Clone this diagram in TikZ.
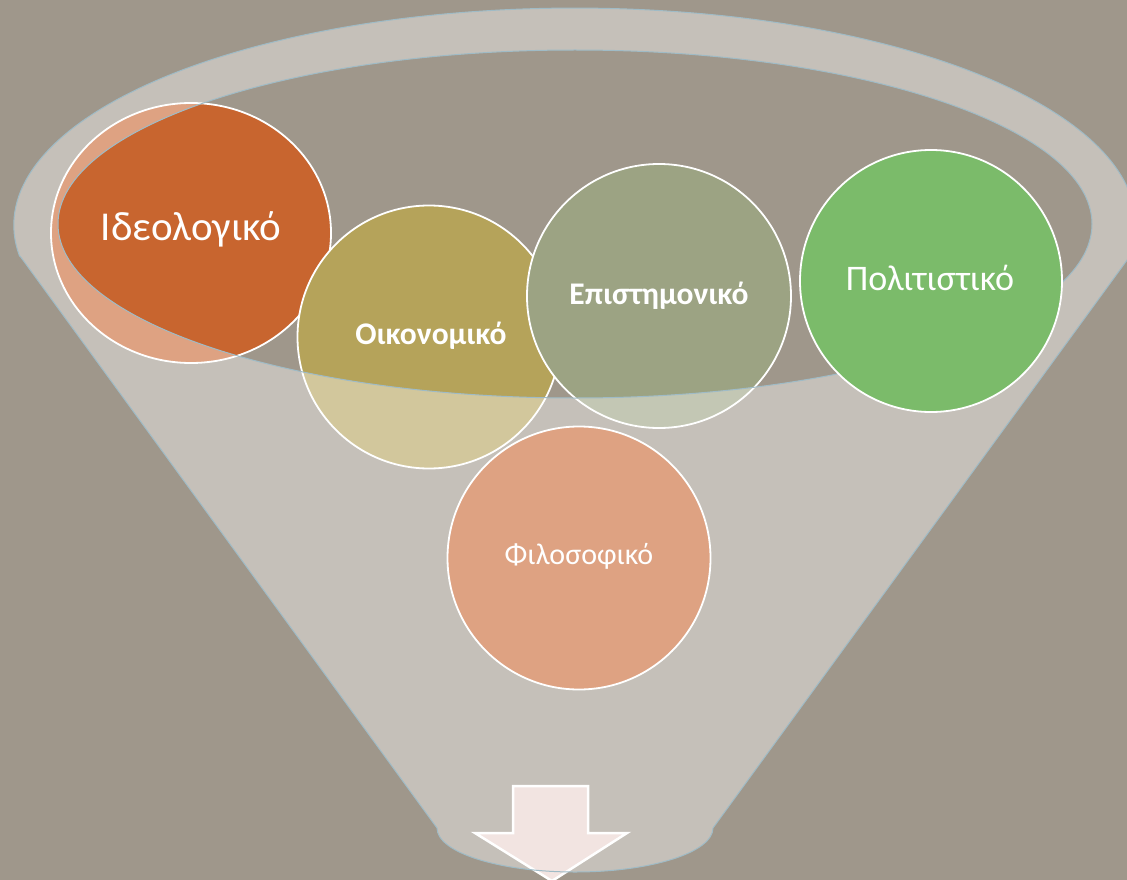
\documentclass[tikz,border=0pt]{standalone}
\usepackage{fontspec}
\setmainfont{Carlito}
\usetikzlibrary{shapes.geometric}
\definecolor{bgc}{HTML}{9F978B}
\definecolor{rimc}{HTML}{9FBBC6}
\definecolor{orangec}{HTML}{C8652F}
\definecolor{olivec}{HTML}{B5A35A}
\definecolor{sagec}{HTML}{9CA383}
\definecolor{greenc}{HTML}{7BBB6A}
\definecolor{arrowc}{HTML}{F2E4E1}
\begin{document}
\begin{tikzpicture}[x=1pt,y=-1pt,
  bubble/.style={circle, draw=white, line width=1.8pt, inner sep=0pt, text=white},
  boldtext/.style={font=\bfseries\fontsize{31.5}{34}\selectfont}]
\useasboundingbox (0,0) rectangle (1127,880);
\clip (0,0) rectangle (1127,880);
\fill[bgc] (0,0) rectangle (1127,880);
% circles beneath the funnel
\node[bubble, fill=orangec, ellipse, minimum width=280pt, minimum height=260pt] (ideo) at (191,233) {};
\node[bubble, fill=orangec, minimum size=263pt] (filo) at (579,558) {};
\node[bubble, fill=olivec, minimum size=263pt] (oiko) at (429,337) {};
\node[bubble, fill=sagec, minimum size=264pt] (epis) at (659,296) {};
% labels
\node[text=white, font=\fontsize{41}{44}\selectfont] (tideo) at (191,229) {Ιδεολογικό};
\node[text=white, boldtext] (toiko) at (431,336) {Οικονομικό};
\node[text=white, boldtext] (tepis) at (659,296) {Επιστημονικό};
\node[text=white, font=\fontsize{30}{33}\selectfont] (tfilo) at (579,556) {Φιλοσοφικό};
% funnel
\path[fill=white, fill opacity=0.4, even odd rule]
  (20,256) -- (437,828)
  arc[start angle=180, end angle=0, x radius=138, y radius=44]
  -- (1130,256)
  arc[start angle=8.2, end angle=-188.2, x radius=561, y radius=217] -- cycle
  (575,224) ellipse[x radius=517, y radius=174];
% arrow
\draw[fill=arrowc, draw=white, line width=2.5pt, line join=miter]
  (513,786) coordinate (a1) -- (588,786) -- (588,833) -- (627,833)
  -- (552,881) -- (475,833) -- (513,833) -- cycle;
% funnel outline
\draw[rimc, line width=1pt]
  (20,256) -- (437,828)
  arc[start angle=180, end angle=0, x radius=138, y radius=44]
  -- (1130,256)
  arc[start angle=8.2, end angle=-188.2, x radius=561, y radius=217] -- cycle
  (575,224) ellipse[x radius=517, y radius=174];
% circle on top
\node[bubble, fill=greenc, minimum size=262pt] (poli) at (931,281) {};
\node[text=white, font=\fontsize{36}{39}\selectfont] (tpoli) at (930,278) {Πολιτιστικό};
\end{tikzpicture}
\end{document}
